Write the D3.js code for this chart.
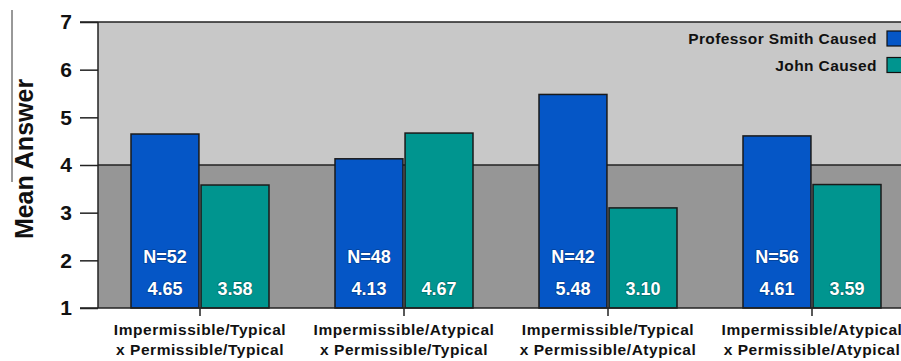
<!DOCTYPE html>
<html>
<head>
<meta charset="utf-8">
<script src="https://cdn.jsdelivr.net/npm/d3@7"></script>
<style>
  html, body { margin: 0; padding: 0; background: #fff; }
  svg { display: block; font-family: "Liberation Sans", Arial, sans-serif; }
</style>
</head>
<body>
<svg id="chart" width="901" height="361"></svg>
<script>
// Condition labels (two lines each)
const categories = [
  ["Impermissible/Typical", "x Permissible/Typical"],
  ["Impermissible/Atypical", "x Permissible/Typical"],
  ["Impermissible/Typical", "x Permissible/Atypical"],
  ["Impermissible/Atypical", "x Permissible/Atypical"]
];
const seriesNames = ["Professor Smith Caused", "John Caused"];
const smithValues = [4.65, 4.13, 5.48, 4.61];
const johnValues = [3.58, 4.67, 3.10, 3.59];
const sampleSizes = [52, 48, 42, 56];
const yTicks = [1, 2, 3, 4, 5, 6, 7];
const midline = 4;

const colors = ["#0556c6", "#00958f"];
const svg = d3.select("#chart");

const plotLeft = 98, plotRight = 914, plotTop = 22, plotBottom = 308;

const x = d3.scaleBand().domain(d3.range(categories.length)).range([plotLeft, plotRight]);
const xInner = d3.scaleBand().domain([0, 1]).range([33, x.bandwidth() - 33]).paddingInner(0.03);
const y = d3.scaleLinear().domain([1, 7]).range([plotBottom, plotTop]);

// Two-tone background split at the scale midpoint
svg.append("rect").attr("x", plotLeft).attr("y", y(7)).attr("width", plotRight - plotLeft)
  .attr("height", y(midline) - y(7)).attr("fill", "#c8c8c8");
svg.append("rect").attr("x", plotLeft).attr("y", y(midline)).attr("width", plotRight - plotLeft)
  .attr("height", y(1) - y(midline)).attr("fill", "#969696");
svg.append("line").attr("x1", plotLeft).attr("x2", plotRight).attr("y1", y(midline)).attr("y2", y(midline))
  .attr("stroke", "#222").attr("stroke-width", 1.3);

// Bars
const rows = categories.map((c, i) => ({ i, vals: [smithValues[i], johnValues[i]] }));
const groups = svg.selectAll("g.grp").data(rows).join("g")
  .attr("class", "grp").attr("transform", d => `translate(${x(d.i)},0)`);

groups.selectAll("rect").data(d => d.vals.map((v, s) => ({ v, s }))).join("rect")
  .attr("x", d => xInner(d.s)).attr("width", xInner.bandwidth())
  .attr("y", d => y(d.v)).attr("height", d => y(1) - y(d.v))
  .attr("fill", d => colors[d.s]).attr("stroke", "#1a1a1a").attr("stroke-width", 1.5);

// Value and sample-size labels inside bars
const labelStyle = sel => sel.attr("fill", "#fff").attr("font-weight", "bold").attr("font-size", 18)
  .attr("text-anchor", "middle").attr("dominant-baseline", "central")
  .style("paint-order", "stroke").attr("stroke", "rgba(0,0,0,0.25)").attr("stroke-width", 1.5);

groups.append("text").call(labelStyle)
  .attr("x", xInner(0) + xInner.bandwidth() / 2).attr("y", 257)
  .text(d => "N=" + sampleSizes[d.i]);
groups.selectAll("text.val").data(d => d.vals.map((v, s) => ({ v, s }))).join("text")
  .attr("class", "val").call(labelStyle)
  .attr("x", d => xInner(d.s) + xInner.bandwidth() / 2).attr("y", 289)
  .text(d => d.v.toFixed(2));

// Frame lines
svg.append("line").attr("x1", 80).attr("x2", 901).attr("y1", plotTop).attr("y2", plotTop)
  .attr("stroke", "#222").attr("stroke-width", 1.5);
svg.append("line").attr("x1", 80).attr("x2", 901).attr("y1", plotBottom).attr("y2", plotBottom)
  .attr("stroke", "#222").attr("stroke-width", 1.5);
svg.append("line").attr("x1", plotLeft).attr("x2", plotLeft).attr("y1", plotTop).attr("y2", plotBottom)
  .attr("stroke", "#222").attr("stroke-width", 1.5);

// Y axis
const yAxis = svg.append("g").attr("transform", `translate(${plotLeft},0)`)
  .call(d3.axisLeft(y).tickValues(yTicks).tickSize(18).tickPadding(8).tickFormat(d3.format("d")));
yAxis.select(".domain").remove();
yAxis.selectAll(".tick line").attr("stroke", "#222").attr("stroke-width", 1.5);
yAxis.selectAll(".tick text").attr("font-size", 21).attr("font-weight", "bold")
  .attr("fill", "#111").attr("font-family", "Liberation Sans, Arial, sans-serif");

// X axis: ticks at group centres, two-line labels
const xAxis = svg.append("g").attr("transform", `translate(0,${plotBottom})`)
  .call(d3.axisBottom(x).tickSize(8).tickFormat(""));
xAxis.select(".domain").remove();
xAxis.selectAll(".tick line").attr("stroke", "#222").attr("stroke-width", 1.5);
xAxis.selectAll(".tick").each(function(d) {
  const t = d3.select(this).append("text").attr("fill", "#111").attr("font-weight", "bold")
    .attr("font-size", 15.5).attr("text-anchor", "middle")
    .attr("font-family", "Liberation Sans, Arial, sans-serif").style("letter-spacing", "0.55px");
  t.append("tspan").attr("x", 0).attr("y", 27).text(categories[d][0]);
  t.append("tspan").attr("x", 0).attr("y", 47).text(categories[d][1]);
});

// Y axis title
svg.append("text").attr("transform", "translate(33,159) rotate(-90)")
  .attr("text-anchor", "middle").attr("font-size", 25).attr("font-weight", "bold")
  .attr("fill", "#111").text("Mean Answer");
svg.append("line").attr("x1", 12).attr("x2", 12).attr("y1", 10).attr("y2", 182)
  .attr("stroke", "#333").attr("stroke-width", 1);

// Legend
const legend = svg.append("g");
seriesNames.forEach((name, s) => {
  const cy = 38.5 + s * 26.5;
  legend.append("text").attr("x", 877).attr("y", cy).attr("dominant-baseline", "central")
    .attr("text-anchor", "end").attr("font-size", 15.5).attr("font-weight", "bold")
    .attr("fill", "#111").style("letter-spacing", "0.4px").text(name);
  legend.append("rect").attr("x", 887).attr("y", cy - 7.5).attr("width", 20).attr("height", 15)
    .attr("fill", colors[s]).attr("stroke", "#111").attr("stroke-width", 1.2);
});
</script>
</body>
</html>
